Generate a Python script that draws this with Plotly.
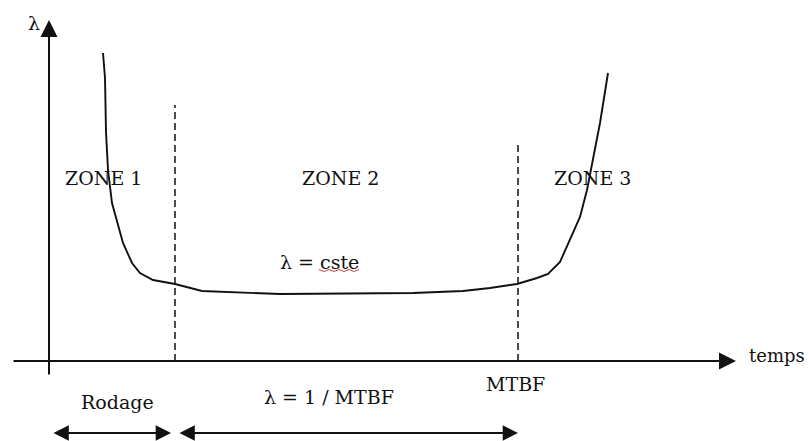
import plotly.graph_objects as go

# Failure rate (bathtub curve): time vs lambda, arbitrary units
t_curve = [5.4, 5.6, 5.7, 5.9, 6.3, 6.8, 7.4, 8.3, 9.1, 10.4, 12.6, 15.3, 18.1, 23.1,
           36.4, 41.4, 44.1, 46.8, 48.8, 49.9, 51.1, 52.1, 53.1, 53.8, 54.4, 55.1, 55.9]
lam_curve = [30.8, 28.3, 22.9, 19.1, 15.8, 14.1, 11.8, 9.8, 8.8, 8.1, 7.7, 7.0, 6.9, 6.7,
             6.8, 7.0, 7.3, 7.7, 8.3, 8.7, 9.9, 12.1, 14.4, 17.1, 20.1, 23.8, 28.8]

# Zone boundaries (end of run-in, MTBF) and the height of their dashed markers
boundaries = [12.6, 46.9]
boundary_tops = [25.6, 21.8]

zone_labels = ["ZONE 1", "ZONE 2", "ZONE 3"]
zone_x = [5.4, 29.1, 54.3]

FONT = dict(family="DejaVu Serif", size=19, color="#111111")
INK = "#111111"

fig = go.Figure()

# bathtub curve
fig.add_trace(go.Scatter(x=t_curve, y=lam_curve, mode="lines",
                         line=dict(color=INK, width=1.9), hoverinfo="skip"))

# dashed zone separators
for xb, top in zip(boundaries, boundary_tops):
    fig.add_trace(go.Scatter(x=[xb, xb], y=[0, top], mode="lines",
                             line=dict(color=INK, width=1.5, dash="7px,4px"),
                             hoverinfo="skip"))

annotations = []


def arrow(x0, y0, x1, y1, both=False, width=2.0, size=1.7):
    annotations.append(dict(
        x=x1, y=y1, ax=x0, ay=y0, xref="x", yref="y", axref="x", ayref="y",
        text="", showarrow=True, arrowhead=2, arrowsize=size, arrowwidth=width,
        arrowcolor=INK, arrowside="end+start" if both else "end",
        startarrowhead=2, startarrowsize=size, standoff=0, startstandoff=0))


# axes with arrow tips
arrow(-3.7, 0, 68.7, 0)
arrow(0, -1.5, 0, 34.1)

# spans below the time axis
arrow(0.3, -7.2, 12.2, -7.2, both=True, width=1.8)
arrow(12.9, -7.2, boundaries[1], -7.2, both=True, width=1.8)


def label(x, y, text, xanchor="center", size=19):
    annotations.append(dict(x=x, y=y, xref="x", yref="y", text=text,
                            showarrow=False, font=dict(FONT, size=size),
                            xanchor=xanchor, yanchor="middle"))


for name, xz in zip(zone_labels, zone_x):
    label(xz, 18.3, name)

label(-1.5, 33.8, "λ")
label(75.8, 0.6, "temps", xanchor="right", size=18)
label(27.0, 9.9, "λ = cste")
label(boundaries[1] - 0.3, -2.3, "MTBF")
label(6.8, -4.1, "Rodage")
label(28.0, -3.6, "λ = 1 / MTBF")

# spell-check squiggle under "cste"
sq_x = [27.0 + 0.5 * i for i in range(9)]
sq_y = [9.15 if i % 2 == 0 else 8.95 for i in range(9)]
fig.add_trace(go.Scatter(x=sq_x, y=sq_y, mode="lines",
                         line=dict(color="#d23c3c", width=1), hoverinfo="skip"))

fig.update_layout(
    width=809, height=441, margin=dict(l=0, r=0, t=0, b=0),
    paper_bgcolor="white", plot_bgcolor="white", showlegend=False,
    xaxis=dict(range=[-4.9, 76.0], visible=False, fixedrange=True),
    yaxis=dict(range=[-8.0, 36.1], visible=False, fixedrange=True),
    annotations=annotations,
)

fig.write_html("out.html")
